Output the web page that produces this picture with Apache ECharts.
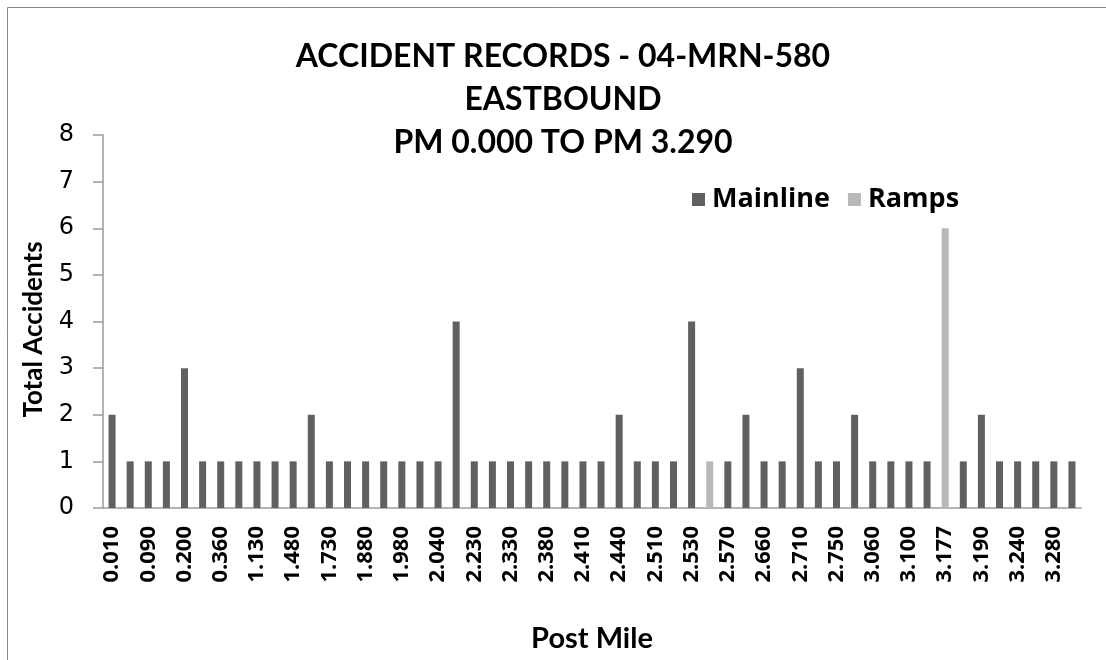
<!DOCTYPE html>
<html>
<head>
<meta charset="utf-8">
<script src="https://cdn.jsdelivr.net/npm/echarts@6/dist/echarts.min.js"></script>
<style>html,body{margin:0;padding:0;background:#fff;}#c{width:1106px;height:660px;}</style>
</head>
<body>
<div id="c"></div>
<script>
var postMiles = ['0.010','0.050','0.090','0.150','0.200','0.300','0.360','0.800','1.130','1.300',
  '1.480','1.600','1.730','1.800','1.880','1.930','1.980','2.000','2.040','2.100',
  '2.230','2.300','2.330','2.360','2.380','2.400','2.410','2.430','2.440','2.480',
  '2.510','2.520','2.530','2.550','2.570','2.610','2.660','2.690','2.710','2.730',
  '2.750','2.900','3.060','3.080','3.100','3.150','3.177','3.180','3.190','3.210',
  '3.240','3.260','3.280','3.290'];
var mainline = [2,1,1,1,3,1,1,1,1,1,
  1,2,1,1,1,1,1,1,1,4,
  1,1,1,1,1,1,1,1,2,1,
  1,1,4,null,1,2,1,1,3,1,
  1,2,1,1,1,1,null,1,2,1,
  1,1,1,1];
var ramps = [null,null,null,null,null,null,null,null,null,null,
  null,null,null,null,null,null,null,null,null,null,
  null,null,null,null,null,null,null,null,null,null,
  null,null,null,1,null,null,null,null,null,null,
  null,null,null,null,null,null,6,null,null,null,
  null,null,null,null];
var yTicks = {min: 0, max: 8, interval: 1};

var chart = echarts.init(document.getElementById('c'));
var F = 'Lato, "Open Sans", sans-serif';
var FO = '"Open Sans", Lato, sans-serif';
chart.setOption({
  animation: false,
  backgroundColor: '#fff',
  graphic: [{
    type: 'rect', shape: {x: 7.5, y: 7.5, width: 1200, height: 800},
    style: {fill: 'none', stroke: '#868686', lineWidth: 1}, silent: true, z: -10
  }],
  title: {
    text: 'ACCIDENT RECORDS - 04-MRN-580\nEASTBOUND\nPM 0.000 TO PM 3.290',
    left: 563, top: 35, textAlign: 'center', padding: 0,
    textStyle: {fontFamily: F, fontWeight: 'bold', fontSize: 32, lineHeight: 43, color: '#000'}
  },
  legend: {
    data: ['Mainline', 'Ramps'],
    left: 692, top: 186, itemWidth: 13, itemHeight: 13, itemGap: 18, padding: 0,
    icon: 'rect',
    textStyle: {fontFamily: FO, fontWeight: 'bold', fontSize: 27, color: '#000', padding: [0, 0, 0, 2]}
  },
  grid: {left: 103, right: 25, top: 135, bottom: 152, containLabel: false},
  xAxis: {
    type: 'category', data: postMiles,
    name: 'Post Mile', nameLocation: 'middle', nameGap: 116,
    nameTextStyle: {fontFamily: F, fontWeight: 'bold', fontSize: 29, color: '#000'},
    axisLine: {lineStyle: {color: '#9a9a9a', width: 1.5}},
    axisTick: {show: false},
    axisLabel: {interval: 1, rotate: 90, margin: 18, fontFamily: FO, fontWeight: 'bold', fontSize: 22, color: '#000'}
  },
  yAxis: {
    type: 'value', min: yTicks.min, max: yTicks.max, interval: yTicks.interval,
    name: 'Total Accidents', nameLocation: 'middle', nameGap: 56, nameRotate: 90,
    nameTextStyle: {fontFamily: F, fontWeight: 'bold', fontSize: 26, color: '#000', padding: [0, 16, 0, 0]},
    axisLine: {show: true, lineStyle: {color: '#9a9a9a', width: 1.5}},
    axisTick: {show: true, inside: false, length: 10, lineStyle: {color: '#9a9a9a', width: 1.5}},
    splitLine: {show: false},
    axisLabel: {margin: 29, fontFamily: '"DejaVu Sans", sans-serif', fontSize: 24, color: '#000'}
  },
  series: [
    {name: 'Mainline', type: 'bar', stack: 'total', data: mainline, barWidth: 7, itemStyle: {color: '#606060'}},
    {name: 'Ramps', type: 'bar', stack: 'total', data: ramps, barWidth: 7, itemStyle: {color: '#b8b8b8'}}
  ]
});
</script>
</body>
</html>
